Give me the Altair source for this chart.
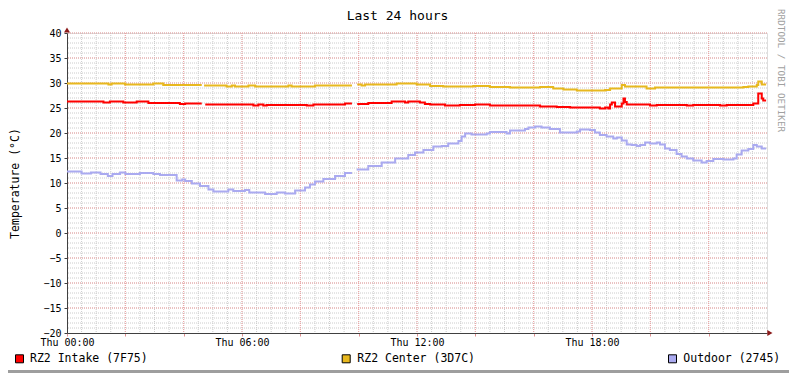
import altair as alt
import pandas as pd

FONT = "DejaVu Sans Mono"

series_names = ["RZ2 Intake (7F75)", "RZ2 Center (3D7C)", "Outdoor (2745)"]
series_colors = ["#FF0000", "#E8B81E", "#AAAAF0"]

# hours since Thu 00:00, None marks a gap in the recording
intake_t = [0.00, 1.25, 1.47, 1.93, 2.39, 2.79, 3.87, 4.05, 4.62, 4.63, 4.74, 6.39, 6.56, 6.73,
            6.85, 8.22, 8.45, 9.53, 9.77, 9.78, 9.95, 10.33, 11.13, 11.59, 11.70, 12.10, 12.27,
            12.45, 12.96, 13.47, 13.99, 14.50, 16.22, 16.79, 17.25, 18.27, 18.45, 18.56, 18.62,
            18.68, 18.79, 19.02, 19.08, 19.13, 19.19, 19.99, 20.22, 21.25, 21.47, 22.39, 22.62,
            23.53, 23.70, 23.82, 23.87, 23.97]
intake_v = [26.3, 26.1, 26.3, 26.1, 26.3, 26.0, 25.8, 25.9, 25.9, None, 25.7, 25.5, 25.7, 25.5,
            25.6, 25.5, 25.7, 25.9, 25.9, None, 25.8, 26.0, 26.3, 26.1, 26.3, 26.1, 25.8,
            25.7, 25.5, 25.6, 25.7, 25.5, 25.3, 25.2, 25.1, 24.9, 25.1, 24.9, 25.7,
            26.1, 25.3, 25.9, 26.9, 26.2, 25.7, 25.5, 25.6, 25.5, 25.6, 25.5, 25.6,
            25.9, 27.9, 26.9, 26.5, 26.5]

center_t = [0.00, 1.42, 1.53, 1.99, 2.96, 3.30, 4.62, 4.63, 4.70, 5.47, 5.65, 5.76, 6.22, 6.45,
            7.59, 7.70, 8.50, 9.77, 9.78, 9.95, 10.10, 10.22, 11.30, 11.99, 12.45, 12.90, 13.93,
            14.50, 15.19, 16.22, 16.67, 17.02, 17.48, 18.45, 18.62, 19.02, 19.13, 19.87, 20.16,
            23.19, 23.36, 23.65, 23.70, 23.82, 23.97]
center_v = [29.9, 29.7, 29.9, 29.7, 29.9, 29.6, 29.6, None, 29.5, 29.3, 29.5, 29.3, 29.5, 29.3,
            29.5, 29.3, 29.5, 29.5, None, 29.7, 29.5, 29.7, 29.9, 29.7, 29.4, 29.3, 29.4,
            29.2, 29.1, 29.2, 28.9, 28.7, 28.5, 28.6, 28.9, 29.6, 29.3, 28.9, 29.1,
            29.2, 29.3, 29.6, 30.3, 29.7, 29.7]

outdoor_t = [0.00, 0.50, 0.82, 1.15, 1.40, 1.56, 1.82, 2.00, 2.50, 2.96, 3.19, 3.76, 3.95, 4.05,
             4.28, 4.56, 4.85, 5.02, 5.53, 5.70, 6.10, 6.25, 6.79, 7.19, 7.47, 7.82, 8.16, 8.33,
             8.50, 8.79, 9.19, 9.53, 9.77, 9.78, 9.93, 10.33, 10.79, 11.25, 11.70, 11.93, 12.22,
             12.56, 12.85, 13.07, 13.42, 13.53, 13.65, 13.87, 14.39, 14.50, 15.07, 15.19, 15.70,
             15.82, 16.05, 16.27, 16.56, 16.90, 17.48, 17.59, 17.93, 18.10, 18.27, 18.50, 18.73,
             18.85, 19.02, 19.19, 19.36, 19.53, 19.65, 19.82, 19.99, 20.22, 20.33, 20.50, 20.67,
             20.90, 21.07, 21.25, 21.47, 21.76, 21.93, 22.16, 22.50, 22.85, 22.96, 23.13, 23.36,
             23.53, 23.65, 23.82, 23.97]
outdoor_v = [12.3, 11.9, 12.1, 11.8, 11.4, 11.8, 12.1, 11.8, 12.0, 11.8, 11.6, 10.5, 10.7, 10.4,
             9.9, 9.4, 8.7, 8.3, 8.7, 8.4, 8.6, 8.1, 7.8, 8.1, 7.9, 8.5, 9.1, 9.7,
             10.3, 10.8, 11.4, 12.0, 12.0, None, 12.7, 13.4, 14.1, 14.9, 15.6, 16.1, 16.6,
             17.3, 17.4, 17.9, 18.4, 19.3, 19.9, 19.7, 19.9, 20.2, 19.9, 20.5, 20.8,
             21.1, 21.3, 21.1, 20.8, 20.1, 20.3, 20.7, 20.6, 20.1, 19.6, 19.3, 18.9,
             19.1, 18.5, 17.7, 17.6, 17.4, 17.6, 18.1, 17.9, 18.1, 17.7, 16.9, 16.6,
             15.8, 15.3, 14.9, 14.5, 14.1, 14.4, 14.8, 14.7, 14.9, 15.7, 16.5, 16.8,
             17.6, 17.3, 16.9, 16.9]

rows = []
for name, ts, vs in zip(series_names, [intake_t, center_t, outdoor_t],
                        [intake_v, center_v, outdoor_v]):
    seg = 0
    for t, v in zip(ts, vs):
        if v is None:
            seg += 1
            continue
        rows.append({"t": t, "v": v, "series": name, "seg": f"{name}-{seg}"})
df = pd.DataFrame(rows)

xs = alt.Scale(domain=[0, 24], nice=False, zero=False)
ys = alt.Scale(domain=[-20, 40], nice=False, zero=False)
cs = alt.Scale(domain=series_names, range=series_colors)

AXIS_COLOR = "#404040"
label_expr = ("datum.value % 6 == 0 ? 'Thu ' + (datum.value < 10 ? '0' : '') + datum.value + ':00' : ''")
x_axis = alt.Axis(
    values=list(range(0, 24, 2)), labelExpr=label_expr, title=None, grid=False,
    domainColor=AXIS_COLOR, tickColor="#E09090", tickSize=3, labelFont=FONT,
    labelFontSize=10, labelPadding=1, labelColor="black", labelFlush=False,
    labelOverlap=False)
y_axis = alt.Axis(
    values=list(range(-20, 41, 5)), format="d", grid=False, domainColor=AXIS_COLOR,
    tickColor=AXIS_COLOR, tickSize=3, labelFont=FONT, labelFontSize=10, labelPadding=3,
    labelColor="black", labelFlush=False, labelOverlap=False,
    title="Temperature (°C)", titleFont=FONT, titleFontSize=11.5, titleFontWeight="normal",
    titleColor="black", titleX=-52, titleY=150, titleAngle=270, titleAlign="center",
    titleBaseline="middle")

X = lambda f="t": alt.X(f"{f}:Q", scale=xs, axis=x_axis)
Y = lambda f="v": alt.Y(f"{f}:Q", scale=ys, axis=y_axis)

minor_x = pd.DataFrame({"t": [i * 0.5 for i in range(1, 48)]})
major_x = pd.DataFrame({"t": [i * 2 for i in range(1, 12)]})
minor_y = pd.DataFrame({"v": list(range(-19, 41))})
major_y = pd.DataFrame({"v": list(range(-15, 41, 5))})

GRID_MINOR = "#CCCCCC"
GRID_MAJOR = "#F0A0A0"

g1 = alt.Chart(minor_x).mark_rule(color=GRID_MINOR, strokeDash=[1, 1], strokeWidth=1).encode(x=X())
g2 = alt.Chart(minor_y).mark_rule(color=GRID_MINOR, strokeDash=[1, 1], strokeWidth=1).encode(y=Y())
g3 = alt.Chart(major_x).mark_rule(color=GRID_MAJOR, strokeDash=[1, 1], strokeWidth=1).encode(x=X())
g4 = alt.Chart(major_y).mark_rule(color=GRID_MAJOR, strokeDash=[1, 1], strokeWidth=1).encode(y=Y())

lines = alt.Chart(df).mark_line(strokeWidth=2, interpolate="step-after").encode(
    x=X(), y=Y(),
    color=alt.Color("series:N", scale=cs, legend=None),
    detail="seg:N",
)

# legend drawn by hand: swatch + label per series, coloured through the same scale
legend_df = pd.DataFrame({"series": series_names})
legend_layers = []
for i, (sx, tx) in enumerate([(-47.5, -37), (279.2, 290.3), (605.5, 616.3)]):
    item = alt.Chart(legend_df).transform_filter(
        alt.datum.series == series_names[i])
    legend_layers.append(item.mark_square(size=64, opacity=1, stroke="black", strokeWidth=1).encode(
        x=alt.value(sx), y=alt.value(325.8),
        fill=alt.Fill("series:N", scale=cs, legend=None)))
    legend_layers.append(item.mark_text(align="left", baseline="middle", font=FONT,
                                        fontSize=11.5, color="black").encode(
        x=alt.value(tx), y=alt.value(326), text="series:N"))

arrow_df = pd.DataFrame({"t": [24.1, 0.0], "v": [-20.0, 40.6],
                         "shape": ["triangle-right", "triangle-up"]})
arrows = alt.Chart(arrow_df).mark_point(filled=True, size=36, color="#8B1A1A", opacity=1).encode(
    x=X(), y=Y(),
    shape=alt.Shape("shape:N", scale=None, legend=None))

text_df = pd.DataFrame({"mark": ["RRDTOOL / TOBI OETIKER"], "title": ["Last 24 hours"]})
watermark = alt.Chart(text_df).mark_text(
    angle=90, align="left", baseline="middle", font=FONT, fontSize=9.3, color="#A0A0A0").encode(
    x=alt.value(714), y=alt.value(-24), text="mark:N")
title = alt.Chart(text_df).mark_text(
    align="center", baseline="alphabetic", font=FONT, fontSize=13, color="black").encode(
    x=alt.value(330.5), y=alt.value(-13.5), text="title:N")

border_b = alt.Chart(text_df).mark_rect(color="#9E9E9E").encode(
    x=alt.value(-59), x2=alt.value(722), y=alt.value(337), y2=alt.value(340))

chart = alt.layer(g1, g2, g3, g4, lines, *legend_layers, arrows, watermark, title,
                  border_b).properties(
    width=700, height=300,
    padding={"left": 59, "top": 25, "right": 22, "bottom": 40},
    autosize=alt.AutoSizeParams(type="none"),
).configure_view(stroke=None).configure(background="white")

chart.save("out.html", embed_options={"renderer": "svg", "actions": False})
